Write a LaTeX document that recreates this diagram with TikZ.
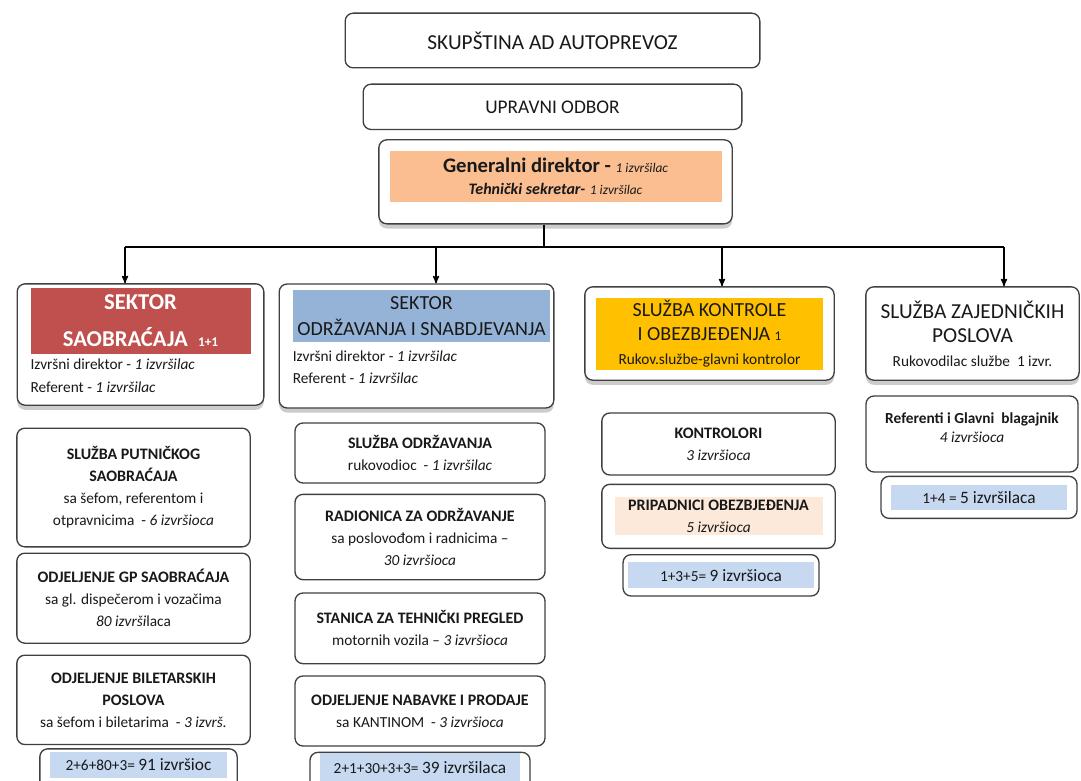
\documentclass[tikz,border=0pt]{standalone}
\usepackage{fontspec}
\setmainfont{Carlito}
\usepackage{tikz}
\usetikzlibrary{positioning,arrows,shadows}

\definecolor{redsektor}{RGB}{192,80,77}
\definecolor{bluesektor}{RGB}{149,179,215}
\definecolor{yellowsluzba}{RGB}{255,192,0}
\definecolor{orangedir}{RGB}{250,190,145}
\definecolor{peachfill}{RGB}{253,233,217}
\definecolor{bluesum}{RGB}{198,217,241}

\begin{document}
\begin{tikzpicture}[x=0.75pt,y=-0.75pt,>=stealth',line width=1pt,node distance=8pt]
  \tikzstyle{box}=[draw=black!75,rounded corners=6pt,fill=white,align=center,text=black!90]
  \tikzstyle{boxshadow}=[drop shadow={shadow xshift=0pt,shadow yshift=-3.5pt,opacity=0.4}]
  \tikzstyle{fillband}=[inner sep=0pt,align=center,text=black!90]
  \tikzstyle{bodytext}=[font=\fontsize{11.5}{16.5}\selectfont]
  \tikzstyle{sumbox}=[font=\fontsize{11.5}{14}\selectfont]

  \useasboundingbox (0,0) rectangle (1081,781);

  % Top of the chart
  \node[box,minimum width=311pt,minimum height=41pt,font=\fontsize{16}{19}\selectfont] (skup) at (552.5,40.5) {SKUPŠTINA AD AUTOPREVOZ};
  \node[box,minimum width=284pt,minimum height=34pt,font=\fontsize{14.5}{17}\selectfont] (odbor) [below=11.25pt of skup] {UPRAVNI ODBOR};
  \node[box,boxshadow,minimum width=265pt,minimum height=63pt] (gendir) [below=6.75pt of odbor,xshift=2.25pt] {};
  \node[fillband,fill=orangedir,minimum width=249pt,minimum height=38pt,font=\fontsize{15.5}{17}\selectfont] (gendirf) [below=8.25pt of gendir.north]
    {{\bfseries Generalni direktor -} {\fontsize{10}{11}\selectfont\itshape 1 izvršilac}\\
     {\fontsize{12}{13}\selectfont\bfseries\itshape Tehnički sekretar-} {\fontsize{10}{11}\selectfont\itshape 1 izvršilac}};

  % Bus to the sectors
  \coordinate (bus) at (544,247);
  \coordinate (a1) at (125,247);
  \coordinate (a2) at (436,247);
  \coordinate (a3) at (722,247);
  \coordinate (a4) at (1004,247);
  \draw (gendir.south -| bus) -- (bus);
  \draw (a1) -- (a4);

  % Sectors
  \node[box,boxshadow,minimum width=185pt,minimum height=91pt] (sek1) at (140.5,344.5) {};
  \node[fillband,fill=redsektor,text=white,minimum width=165pt,minimum height=49.5pt,font=\fontsize{17}{28}\selectfont\bfseries] (sek1h) [below=3pt of sek1.north]
    {SEKTOR\\SAOBRAĆAJA\ \ {\fontsize{10}{12}\selectfont 1+1}};
  \node[inner sep=0pt,align=left,text=black!90,font=\fontsize{11.5}{17}\selectfont] (sek1d) [below=3pt of sek1h.south west,anchor=north west]
    {Izvršni direktor - \textit{1 izvršilac}\\Referent - \textit{1 izvršilac}};

  \node[box,boxshadow,minimum width=206pt,minimum height=93pt] (sek2) at (416.5,346) {};
  \node[fillband,fill=bluesektor,minimum width=193pt,minimum height=39pt,font=\fontsize{15}{20}\selectfont] (sek2h) [below=4.5pt of sek2.north,xshift=3.75pt]
    {SEKTOR\\ODRŽAVANJA I SNABDJEVANJA};
  \node[inner sep=0pt,align=left,text=black!90,font=\fontsize{11.5}{16.5}\selectfont] (sek2d) [below=6pt of sek2h.south west,anchor=north west]
    {Izvršni direktor - \textit{1 izvršilac}\\Referent - \textit{1 izvršilac}};

  \node[box,boxshadow,minimum width=187pt,minimum height=70pt] (sek3) at (709.5,333.5) {};
  \node[fillband,fill=yellowsluzba,minimum width=170pt,minimum height=54pt,font=\fontsize{15}{18}\selectfont] (sek3h) at (sek3.center)
    {SLUŽBA KONTROLE\\I OBEZBJEĐENJA\ {\fontsize{10}{12}\selectfont 1}\\{\fontsize{11.5}{14}\selectfont Rukov.službe-glavni kontrolor}};

  \node[box,boxshadow,minimum width=160pt,minimum height=70pt,font=\fontsize{16}{18}\selectfont] (sek4) at (972.5,333.5)
    {SLUŽBA ZAJEDNIČKIH\\POSLOVA\\{\fontsize{11.5}{14}\selectfont Rukovodilac službe\ \ 1 izvr.}};

  \foreach \i in {1,...,4}
    \draw[->] (a\i) -- (a\i |- sek\i.north);

  % Column of the traffic sector
  \node[box,bodytext,minimum width=175pt,minimum height=89pt] (c1a) at (133.5,487.5)
    {\textbf{\large SLUŽBA PUTNIČKOG}\\\textbf{\large SAOBRAĆAJA}\\sa šefom, referentom i\\otpravnicima\ \ - \textit{6 izvršioca}};
  \node[box,bodytext,minimum width=175pt,minimum height=67.5pt] (c1b) [below=3.75pt of c1a]
    {\textbf{\large ODJELJENJE GP SAOBRAĆAJA}\\sa gl. dispečerom i vozačima\\\textit{80 izvrši}laca};
  \node[box,bodytext,minimum width=175pt,minimum height=67pt] (c1c) [below=8pt of c1b]
    {\textbf{\large ODJELJENJE BILETARSKIH}\\\textbf{\large POSLOVA}\\sa šefom i biletarima\ \ - \textit{3 izvrš.}};
  \node[box,minimum width=148pt,minimum height=34pt] (sum1) [below=2.25pt of c1c,xshift=3.75pt] {};
  \node[fillband,sumbox,fill=bluesum,minimum width=133pt,minimum height=19.5pt] (sum1f) [below=2.25pt of sum1.north]
    {2+6+80+3= {\fontsize{13}{14}\selectfont 91 izvršioc}};

  % Column of the maintenance sector
  \node[box,bodytext,minimum width=187.5pt,minimum height=45pt] (c2a) at (420,453)
    {\textbf{\large SLUŽBA ODRŽAVANJA}\\rukovodioc\ \ - \textit{1 izvršilac}};
  \node[box,bodytext,minimum width=187.5pt,minimum height=64pt] (c2b) [below=7.5pt of c2a]
    {\textbf{\large RADIONICA ZA ODRŽAVANJE}\\sa poslovođom i radnicima --\\\textit{30 izvršioca}};
  \node[box,bodytext,minimum width=187.5pt,minimum height=53pt] (c2c) [below=9pt of c2b]
    {\textbf{\large STANICA ZA TEHNIČKI PREGLED}\\motornih vozila -- \textit{3 izvršioca}};
  \node[box,bodytext,minimum width=187.5pt,minimum height=52.5pt] (c2d) [below=8.25pt of c2c]
    {\textbf{\large ODJELJENJE NABAVKE I PRODAJE}\\sa KANTINOM\ \ - \textit{3 izvršioca}};
  \node[box,minimum width=165pt,minimum height=34pt] (sum2) [below=3.75pt of c2d] {};
  \node[fillband,sumbox,fill=bluesum,minimum width=150pt,minimum height=21pt] (sum2f) [below=0.75pt of sum2.north]
    {2+1+30+3+3= {\fontsize{13}{14}\selectfont 39 izvršilaca}};

  % Column of the control service
  \node[box,bodytext,minimum width=175pt,minimum height=46.5pt] (c3a) at (718.5,444)
    {\textbf{\large KONTROLORI}\\\textit{3 izvršioca}};
  \node[box,minimum width=175pt,minimum height=48pt] (c3b) [below=6pt of c3a] {};
  \node[fillband,bodytext,fill=peachfill,minimum width=156pt,minimum height=28.5pt] (c3bf) at (c3b.center)
    {\textbf{\large PRIPADNICI OBEZBJEĐENJA}\\\textit{5 izvršioca}};
  \node[box,minimum width=147pt,minimum height=31pt] (sum3) [below=3.75pt of c3b,xshift=1.9pt] {};
  \node[fillband,sumbox,fill=bluesum,minimum width=139pt,minimum height=19.5pt] (sum3f) at (sum3.center)
    {1+3+5= {\fontsize{13}{14}\selectfont 9 izvršioca}};

  % Column of the common service
  \node[box,minimum width=159pt,minimum height=57pt] (c4a) at (972,434) {};
  \node[align=center,text=black!90,font=\fontsize{11.5}{14}\selectfont] (c4at) at (c4a.center) [yshift=5pt]
    {\textbf{Referenti i Glavni\ \ blagajnik}\\\textit{4 izvršioca}};
  \node[box,minimum width=147pt,minimum height=31.5pt] (sum4) [below=2.25pt of c4a,xshift=5.25pt] {};
  \node[fillband,sumbox,fill=bluesum,minimum width=132pt,minimum height=19pt] (sum4f) at (sum4.center)
    {1+4 = {\fontsize{13}{14}\selectfont 5 izvršilaca}};
\end{tikzpicture}
\end{document}
